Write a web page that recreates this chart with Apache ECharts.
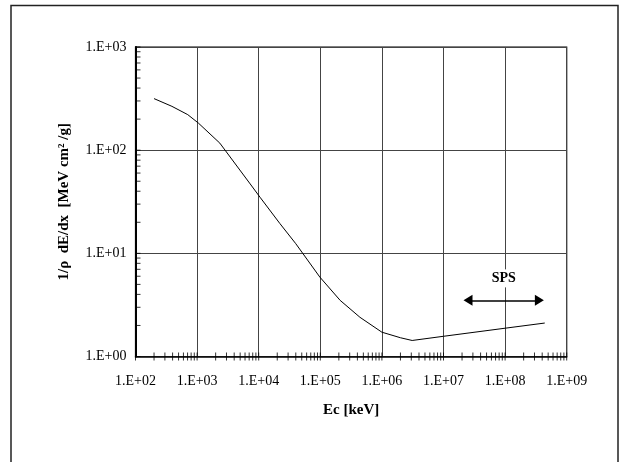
<!DOCTYPE html>
<html>
<head>
<meta charset="utf-8">
<script src="https://cdn.jsdelivr.net/npm/echarts@6/dist/echarts.min.js"></script>
<style>
  html, body { margin: 0; padding: 0; background: #fff; }
  #main { width: 626px; height: 462px; }
</style>
</head>
<body>
<div id="main"></div>
<script>
// curve (energy in keV, stopping power)
var energy = [200, 390, 705, 1050, 2340, 7100, 10500, 22000, 40000, 98000, 210000, 440000, 1000000, 2000000, 3100000, 10000000, 100000000, 440000000];
var dedx   = [316, 266, 221, 183, 117, 48, 35, 19.5, 12.4, 5.9, 3.5, 2.4, 1.72, 1.52, 1.43, 1.57, 1.88, 2.11];

// SPS range arrow (centres of the two arrow heads)
var spsRange = [25000000, 360000000];
var spsLevel = 3.5;

// tick positions (decades x 1..9)
var xDecades = [1e2, 1e3, 1e4, 1e5, 1e6, 1e7, 1e8];
var yDecades = [1, 10, 100];
var mults = [1, 2, 3, 4, 5, 6, 7, 8, 9];

var xTicks = [];
xDecades.forEach(function (d) {
    mults.forEach(function (m) { xTicks.push([d * m, 1]); });
});
xTicks.push([1e9, 1]);
var yTicks = [];
yDecades.forEach(function (d) {
    mults.forEach(function (m) { yTicks.push([100, d * m]); });
});
yTicks.push([100, 1000]);

var lineData = [];
for (var i = 0; i < energy.length; i++) {
    lineData.push([energy[i], dedx[i]]);
}

function expLabel(v) {
    var e = Math.round(Math.log10(v));
    return '1.E+' + (e < 10 ? '0' + e : e);
}

var font = 'Liberation Serif, Times New Roman, serif';
var chart = echarts.init(document.getElementById('main'));
var option = {
    animation: false,
    backgroundColor: '#fff',
    graphic: [{
        type: 'rect',
        shape: { x: 11, y: 5.5, width: 607, height: 500 },
        style: { fill: 'none', stroke: '#222', lineWidth: 1.5 },
        silent: true
    }],
    grid: {
        left: 135.5,
        right: 59.3,
        top: 47,
        bottom: 105.5,
        show: true,
        borderColor: '#000',
        borderWidth: 1.2
    },
    xAxis: {
        type: 'log',
        logBase: 10,
        min: 1e2,
        max: 1e9,
        name: 'Ec [keV]',
        nameLocation: 'middle',
        nameGap: 46,
        nameTextStyle: { fontFamily: font, fontSize: 15, fontWeight: 'bold', color: '#000' },
        axisLine: { onZero: false, lineStyle: { color: '#000', width: 1.5 } },
        axisTick: { show: false },
        minorTick: { show: false },
        axisLabel: {
            margin: 18,
            fontFamily: font,
            fontSize: 14,
            color: '#000',
            formatter: expLabel
        },
        splitLine: { show: true, lineStyle: { color: '#444', width: 1 } }
    },
    yAxis: {
        type: 'log',
        logBase: 10,
        min: 1,
        max: 1000,
        name: '1/ρ  dE/dx  [MeV cm² /g]',
        nameLocation: 'middle',
        nameRotate: 90,
        nameGap: 64,
        nameTextStyle: { fontFamily: font, fontSize: 15, fontWeight: 'bold', color: '#000' },
        axisLine: { onZero: false, lineStyle: { color: '#000', width: 2 } },
        axisTick: { show: false },
        axisLabel: {
            margin: 9,
            fontFamily: font,
            fontSize: 14,
            color: '#000',
            formatter: expLabel
        },
        splitLine: { show: true, lineStyle: { color: '#444', width: 1 } }
    },
    series: [{
        type: 'line',
        data: lineData,
        showSymbol: false,
        symbol: 'none',
        lineStyle: { color: '#000', width: 1 },
        z: 5,
        markLine: {
            silent: true,
            symbol: ['triangle', 'triangle'],
            symbolSize: [11, 9],
            lineStyle: { color: '#000', width: 1.5, type: 'solid' },
            label: {
                show: true,
                position: 'insideMiddleTop',
                distance: 13,
                formatter: 'SPS',
                fontFamily: font,
                fontSize: 14,
                fontWeight: 'bold',
                color: '#000',
                backgroundColor: '#fff',
                padding: [2, 2, 2, 2]
            },
            data: [[
                { coord: [spsRange[0], spsLevel] },
                { coord: [spsRange[1], spsLevel] }
            ]]
        }
    }, {
        type: 'scatter',
        data: xTicks,
        symbol: 'rect',
        symbolSize: [1, 8],
        itemStyle: { color: '#000' },
        clip: false,
        silent: true,
        z: 6
    }, {
        type: 'scatter',
        data: yTicks,
        symbol: 'rect',
        symbolSize: [5, 1],
        symbolOffset: [2.5, 0],
        itemStyle: { color: '#000' },
        clip: false,
        silent: true,
        z: 6
    }]
};
chart.setOption(option);
</script>
</body>
</html>
